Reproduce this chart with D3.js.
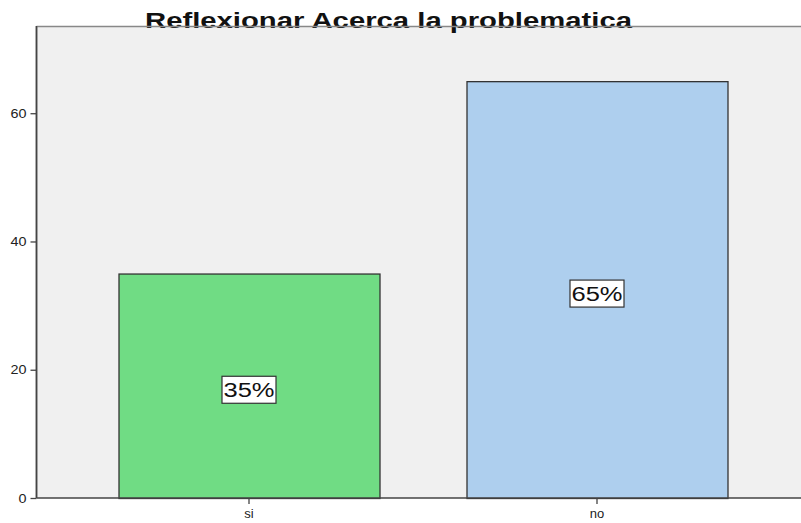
<!DOCTYPE html>
<html><head><meta charset="utf-8">
<script src="https://cdn.jsdelivr.net/npm/d3@7"></script>
<style>body{margin:0;background:#fff;}svg{display:block;}</style>
</head><body>
<script>
const title = "Reflexionar Acerca la problematica";
const categories = ["si", "no"];
const values = [35, 65];
const labels = ["35%", "65%"];
const yTicks = [0, 20, 40, 60];
const colors = ["#70dc84", "#aecfee"];

(function () {
const W = 801, H = 523;
const pL = 36.5, pT = 26, pR = 801, pB = 498;
const font = "Arial, 'Liberation Sans', sans-serif";
const svg = d3.select("body").append("svg").attr("width", W).attr("height", H);

const y = d3.scaleLinear().domain([0, 73.6]).range([pB, pT]);
const x = d3.scaleBand().domain(categories).range([75, 771]).paddingInner(0.25).paddingOuter(0.125);

svg.append("rect").attr("x", pL).attr("y", pT).attr("width", pR - pL).attr("height", pB - pT).attr("fill", "#f0f0f0");

svg.selectAll("rect.bar").data(values).join("rect").attr("class", "bar")
  .attr("x", (d, i) => x(categories[i]) + 0.5)
  .attr("y", d => y(d) + 0.5)
  .attr("width", x.bandwidth())
  .attr("height", d => pB - y(d))
  .attr("fill", (d, i) => colors[i])
  .attr("stroke", "#333").attr("stroke-width", 1.3);

const yAxis = svg.append("g").attr("transform", `translate(${pL},0)`)
  .call(d3.axisLeft(y).tickValues(yTicks).tickSize(6).tickSizeOuter(0));
yAxis.select(".domain").attr("stroke", "#444").attr("stroke-width", 1.5).attr("d", `M0,${pT}V${pB}`);
yAxis.selectAll(".tick line").attr("stroke", "#444").attr("stroke-width", 1.3);
yAxis.selectAll(".tick text").attr("font-family", font).attr("font-size", 13).attr("fill", "#222").attr("x", -10)
  .attr("textLength", d => String(d).length * 8).attr("lengthAdjust", "spacingAndGlyphs");

const xAxis = svg.append("g").attr("transform", `translate(0,${pB})`)
  .call(d3.axisBottom(x).tickSize(6).tickSizeOuter(0));
xAxis.select(".domain").attr("stroke", "#444").attr("stroke-width", 1.5).attr("d", `M${pL},0H${pR}`);
xAxis.selectAll(".tick line").attr("stroke", "#444").attr("stroke-width", 1.3);
xAxis.selectAll(".tick text").attr("font-family", font).attr("font-size", 13).attr("fill", "#222").attr("dy", "0").attr("y", 20);

const lab = svg.selectAll("g.lab").data(values).join("g").attr("class", "lab")
  .attr("transform", (d, i) => `translate(${x(categories[i]) + x.bandwidth() / 2},${y(d / 2) + 4})`);
lab.append("rect").attr("x", -27).attr("y", -13.5).attr("width", 54).attr("height", 27)
  .attr("fill", "#fff").attr("stroke", "#333").attr("stroke-width", 1.2);
lab.append("text").text((d, i) => labels[i]).attr("x", -25.5).attr("y", 7.5)
  .attr("textLength", 51).attr("lengthAdjust", "spacingAndGlyphs")
  .attr("font-family", font).attr("font-size", 20).attr("fill", "#111");

svg.append("text").text(title).attr("x", 145).attr("y", 27.5)
  .attr("textLength", 487).attr("lengthAdjust", "spacingAndGlyphs")
  .attr("font-family", font).attr("font-weight", "bold").attr("font-size", 22).attr("fill", "#111");
svg.append("line").attr("x1", pL).attr("x2", pR).attr("y1", pT + 0.5).attr("y2", pT + 0.5).attr("stroke", "#888").attr("stroke-width", 1.5);
svg.append("line").attr("x1", pL).attr("x2", pL).attr("y1", pT).attr("y2", pB).attr("stroke", "#444").attr("stroke-width", 1.5);
})();
</script>
</body></html>
